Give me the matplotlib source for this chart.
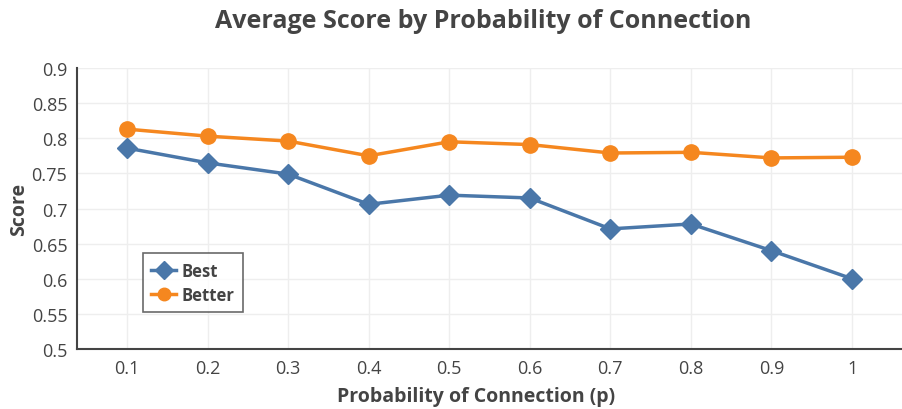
import matplotlib
matplotlib.use('Agg')
from matplotlib import pyplot as plt

p = [0.1, 0.2, 0.3, 0.4, 0.5, 0.6, 0.7, 0.8, 0.9, 1.0]
best = [0.786, 0.765, 0.749, 0.706, 0.719, 0.715, 0.671, 0.678, 0.640, 0.600]
better = [0.813, 0.803, 0.796, 0.775, 0.795, 0.791, 0.779, 0.780, 0.772, 0.773]
yticks = [0.5, 0.55, 0.6, 0.65, 0.7, 0.75, 0.8, 0.85, 0.9]
ytick_labels = ['0.5', '0.55', '0.6', '0.65', '0.7', '0.75', '0.8', '0.85', '0.9']
xtick_labels = ['0.1', '0.2', '0.3', '0.4', '0.5', '0.6', '0.7', '0.8', '0.9', '1']

plt.rcParams['font.family'] = ['Open Sans', 'DejaVu Sans']
text_color = '#444444'

fig = plt.figure(figsize=(9.02, 4.10), dpi=100)
ax = fig.add_axes([0.0854, 0.1463, 0.9146, 0.6854])

ax.plot(p, best, color='#4a77a9', lw=2.5, marker='D', ms=10.5,
        label='Best', zorder=3)
ax.plot(p, better, color='#f5871f', lw=2.5, marker='o', ms=11,
        label='Better', zorder=3)

ax.set_xlim(0.038, 1.062)
ax.set_ylim(0.5, 0.9)
ax.set_xticks(p, xtick_labels)
ax.set_yticks(yticks, ytick_labels)
ax.grid(color='#eeeeee', lw=1)
ax.set_axisbelow(True)
for s in ('top', 'right'):
    ax.spines[s].set_visible(False)
for s in ('left', 'bottom'):
    ax.spines[s].set_color(text_color)
    ax.spines[s].set_linewidth(1.5)
ax.tick_params(length=0, labelsize=13, colors=text_color, pad=7)

ax.set_xlabel('Probability of Connection (p)', fontsize=14,
              fontweight='bold', color=text_color)
ax.xaxis.set_label_coords(0.484, -0.132)
ax.set_ylabel('Score', fontsize=14, fontweight='bold',
              color=text_color, labelpad=2)
fig.text(0.5355, 0.948, 'Average Score by Probability of Connection',
         ha='center', va='center', fontsize=18, fontweight='bold',
         color=text_color)

leg = ax.legend(loc='upper left', bbox_to_anchor=(0.08, 0.34),
                frameon=True, fancybox=False,
                prop={'weight': 'bold', 'size': 12},
                handlelength=1.5, handletextpad=0.3, borderpad=0.5,
                labelspacing=0.35, borderaxespad=0)
leg.get_frame().set_edgecolor(text_color)
leg.get_frame().set_linewidth(1.2)
for t in leg.get_texts():
    t.set_color(text_color)
for h in leg.legend_handles:
    h.set_markersize(9)

fig.savefig('out.png', dpi=100)
